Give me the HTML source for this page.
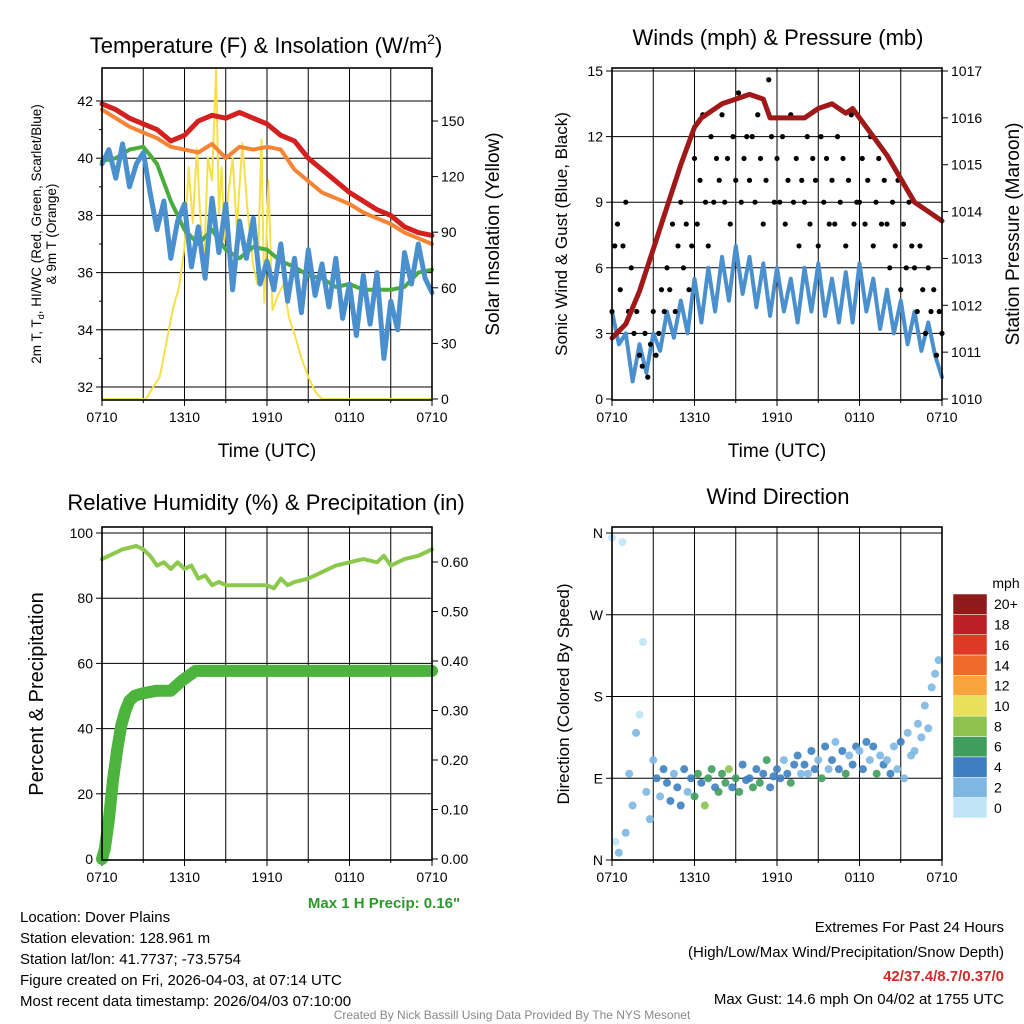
<!DOCTYPE html>
<html><head><meta charset="utf-8"><style>
body{margin:0;background:#fff}
svg{display:block;font-family:"Liberation Sans",Arial,sans-serif}
</style></head><body>
<svg id="s" width="1024" height="1024" viewBox="0 0 1024 1024" xmlns="http://www.w3.org/2000/svg">
<g id="g"></g>
<text x="266" y="53" font-size="22" text-anchor="middle">Temperature (F) &amp; Insolation (W/m<tspan font-size="14" dy="-9">2</tspan><tspan dy="9">)</tspan></text>
<text x="778" y="45" font-size="22" text-anchor="middle">Winds (mph) &amp; Pressure (mb)</text>
<text x="266" y="510" font-size="22" text-anchor="middle">Relative Humidity (%) &amp; Precipitation (in)</text>
<text x="778" y="504" font-size="22" text-anchor="middle">Wind Direction</text>
<text transform="translate(41,234) rotate(-90)" font-size="13.5" text-anchor="middle">2m T, T<tspan font-size="9" dy="3">d</tspan><tspan dy="-3">, HI/WC (Red, Green, Scarlet/Blue)</tspan></text>
<text transform="translate(56,234) rotate(-90)" font-size="13.5" text-anchor="middle">&amp; 9m T (Orange)</text>
<text transform="translate(499,234) rotate(-90)" font-size="19" text-anchor="middle">Solar Insolation (Yellow)</text>
<text transform="translate(567,234) rotate(-90)" font-size="17" text-anchor="middle">Sonic Wind &amp; Gust (Blue, Black)</text>
<text transform="translate(1019,234) rotate(-90)" font-size="19" text-anchor="middle">Station Pressure (Maroon)</text>
<text transform="translate(43,694) rotate(-90)" font-size="20" text-anchor="middle">Percent &amp; Precipitation</text>
<text transform="translate(569,694) rotate(-90)" font-size="17" text-anchor="middle">Direction (Colored By Speed)</text>
<text x="267" y="457" font-size="19" text-anchor="middle">Time (UTC)</text>
<text x="777" y="457" font-size="19" text-anchor="middle">Time (UTC)</text>
<text x="384" y="908" font-size="15" font-weight="bold" fill="#2a9a2a" text-anchor="middle">Max 1 H Precip: 0.16"</text>
<g font-size="15">
<text x="20" y="922">Location: Dover Plains</text>
<text x="20" y="943">Station elevation: 128.961 m</text>
<text x="20" y="964">Station lat/lon: 41.7737; -73.5754</text>
<text x="20" y="985">Figure created on Fri, 2026-04-03, at 07:14 UTC</text>
<text x="20" y="1006">Most recent data timestamp: 2026/04/03 07:10:00</text>
</g>
<g font-size="15" text-anchor="end">
<text x="1004" y="932">Extremes For Past 24 Hours</text>
<text x="1004" y="957">(High/Low/Max Wind/Precipitation/Snow Depth)</text>
<text x="1004" y="981" font-weight="bold" fill="#d42a2a">42/37.4/8.7/0.37/0</text>
<text x="1004" y="1004">Max Gust: 14.6 mph On 04/02 at 1755 UTC</text>
</g>
<text x="512" y="1019" font-size="12" fill="#888" text-anchor="middle">Created By Nick Bassill Using Data Provided By The NYS Mesonet</text>
</svg>
<script>
const hours=[0,1,2,3,4,5,6,7,8,9,10,11,12,13,14,15,16,17,18,19,20,21,22,23,24];
const tempRed=[41.9,41.7,41.4,41.2,41.0,40.6,40.8,41.3,41.5,41.4,41.6,41.4,41.2,40.8,40.6,40.0,39.6,39.2,38.8,38.5,38.2,38.0,37.6,37.4,37.3];
const tempOrange=[41.7,41.4,41.1,40.9,40.7,40.4,40.3,40.2,40.5,40.0,40.4,40.3,40.4,40.3,39.6,39.2,38.8,38.6,38.4,38.1,37.9,37.7,37.4,37.2,37.0];
const dewGreen=[39.9,40.0,40.3,40.4,39.8,38.5,37.5,37.0,37.5,36.8,36.5,36.9,36.8,36.4,36.2,35.9,35.8,35.5,35.6,35.4,35.4,35.4,35.5,36.0,36.1];
const wcBlue=[39.8,40.3,39.3,40.5,39.0,39.8,40.2,38.8,37.5,38.5,36.5,37.8,38.4,36.2,37.6,35.8,38.6,36.7,38.4,35.4,37.8,36.5,37.9,35.6,36.4,35.4,37.0,35.0,36.5,34.6,36.8,35.2,36.3,34.8,36.5,34.4,35.6,33.8,35.9,34.2,36.0,33.0,35.0,34.0,36.7,35.6,37.0,35.8,35.3];
const insolTimes=[0,3.2,3.6,4.2,4.8,5.2,5.6,6.0,6.3,6.6,6.9,7.1,7.4,7.7,8.0,8.3,8.5,8.7,8.9,9.2,9.5,9.8,10.2,10.6,11.0,11.3,11.6,11.8,12.1,12.4,12.8,13.2,13.6,14.0,14.5,15.0,15.5,16.0,24];
const insolVals=[0,0,5,12,35,50,60,82,125,95,135,105,70,130,118,178,100,125,85,112,130,92,138,100,72,62,140,52,118,48,56,62,44,35,22,12,4,0,0];
const windTimes=[0,0.5,1,1.5,2,2.5,3,3.5,4,4.5,5,5.5,6,6.5,7,7.5,8,8.5,9,9.5,10,10.5,11,11.5,12,12.5,13,13.5,14,14.5,15,15.5,16,16.5,17,17.5,18,18.5,19,19.5,20,20.5,21,21.5,22,22.5,23,23.5,24];
const windSpeed=[4,2.5,3,0.8,2.5,1.2,3,2.2,4,2.8,4.5,3,5.5,3.5,6,4,6.5,4.5,7,4.8,6.5,4.2,6.2,3.8,6,4,5.5,3.5,6,4,6.2,3.8,5.5,3.5,5.8,3.5,6.2,4,5.5,3.2,5,3,4.5,2.5,4,2.2,3.5,2,1];
const gusts=[4,7,8,5,7,9,4,6,3,4, 2,1.5,3,1,2.5,4,2,3,5,4, 6,5,8,4,7,9,6,8,5,7, 11,8,10,13,9,7,12,9,11,10, 13,9,11,8,12,10,14,9,11,12, 10,12,9,13,11,8,10,14.6,12,9, 11,9,12,8,10,13,9,11,7,10, 9,12,8,11,10,7,12,9,11,8, 10,8,12,9,11,7,10,13,8,9, 9,11,8,10,12,7,9,11,8,10, 8,6,9,7,10,5,8,6,9,7, 6,4,7,5,3,6,4,5,2,4,3];
const pressTimes=[0,1,2,3,4,5,6,6.5,7,8,9,10,11,11.5,12,13,14,15,16,17,17.5,18,19,20,21,22,23,24];
const pressure=[1011.3,1011.6,1012.3,1013.2,1014.1,1015.0,1015.8,1016.0,1016.1,1016.3,1016.4,1016.5,1016.4,1016.0,1016.0,1016.0,1016.0,1016.2,1016.3,1016.1,1016.2,1016.0,1015.6,1015.2,1014.7,1014.2,1014.0,1013.8];
const rhTimes=[0,0.5,1.5,2.5,3,3.5,4,4.5,5,5.5,6,6.5,7,7.5,8,8.5,9,10,11,12,12.5,13,13.5,14,15,16,17,18,19,20,20.5,21,22,23,24];
const rh=[92,93,95,96,95,93,90,91,89,91,89,90,86,87,84,85,84,84,84,84,83,86,84,85,86,88,90,91,92,91,93,90,92,93,95];
const precipTimes=[0,0.2,0.5,0.8,1.1,1.4,1.7,2.0,2.4,3.0,4.0,5.0,5.8,6.3,6.8,24];
const precip=[0,0.02,0.08,0.16,0.22,0.27,0.30,0.32,0.33,0.335,0.34,0.34,0.36,0.37,0.38,0.38];
const dirDeg=[355,20,8,350,30,95,60,140, 160,240,75,45,110,90,70,100, 85,65,95,80,60,100,75,90, 70,95,85,60,90,100,80,75, 95,85,100,80,90,75,105,88, 90,80,100,85,95,110,80,92, 100,90,110,95,85,105,115,95, 105,95,120,100,110,90,125,100, 110,130,100,120,95,115,105,125, 120,100,130,110,125,95,115,105, 110,95,125,100,130,90,140,115, 120,150,135,170,145,190,205,220];
const dirSpeed=[1,1,2,1,2,2,3,2, 1,1,2,3,3,4,3,4, 4,5,3,4,4,5,3,4, 6,7,5,8,6,7,5,6, 7,6,8,5,7,6,4,5, 5,6,4,7,5,6,4,5, 4,5,3,4,6,4,5,3, 4,3,5,4,3,6,4,3, 4,3,5,4,6,3,4,5, 3,4,5,3,4,6,3,4, 3,4,2,3,4,3,2,3, 3,2,3,2,2,3,2,3];
const xTickLabels=["0710","1310","1910","0110","0710"];
const cbLabels=["20+","18","16","14","12","10","8","6","4","2","0"];
const cbColors=["#8e1a1a","#bd1f26","#dc3a25","#f06a2c","#f8a53f","#e8df5a","#8dc24f","#3f9e5c","#3d7fc0","#7db7e2","#bfe5f7"];

const NS="http://www.w3.org/2000/svg";
const G=document.getElementById('g');
function el(t,a,p){const e=document.createElementNS(NS,t);for(const k in a)e.setAttribute(k,a[k]);(p||G).appendChild(e);return e;}
function lin(d0,d1,r0,r1){return v=>r0+(v-d0)/(d1-d0)*(r1-r0);}
function spdColor(s){let i=Math.min(10,Math.floor(s/2));return cbColors[10-i];}

function frame(name,x0,y0,x1,y1,yL,yR,ticksL,fmtL,ticksR,fmtR,minorL){
  const g=el('g',{});
  
  
  const X=lin(0,24,x0,x1);
  for(let h=3;h<24;h+=3){const l=el('line',{x1:X(h),x2:X(h),y1:y0,y2:y1,stroke:'#000','stroke-width':1},g);
    
    }
  ticksL.forEach(v=>{const y=yL(v);
    if(y>y0+2&&y<y1-2){const l=el('line',{x1:x0,x2:x1,y1:y,y2:y,stroke:'#000','stroke-width':1},g);
    
    }
    el('line',{x1:x0-6,x2:x0,y1:y,y2:y,stroke:'#000'},g);
    const t=el('text',{x:x0-9,y:y+5,'font-size':14,'text-anchor':'end'},g);t.textContent=fmtL(v);
    
    });
  if(minorL)minorL.forEach(v=>{const y=yL(v);el('line',{x1:x0-3,x2:x0,y1:y,y2:y,stroke:'#000'},g);});
  if(ticksR)ticksR.forEach(v=>{const y=yR(v);
    el('line',{x1:x1,x2:x1+6,y1:y,y2:y,stroke:'#000'},g);
    const t=el('text',{x:x1+9,y:y+5,'font-size':14},g);t.textContent=fmtR(v);
    
    });
  xTickLabels.forEach((s,i)=>{const x=X(i*6);
    el('line',{x1:x,x2:x,y1:y1,y2:y1+6,stroke:'#000'},g);
    const t=el('text',{x:x,y:y1+22,'font-size':14,'text-anchor':'middle'},g);t.textContent=s;
    
    });
  for(let h=3;h<24;h+=6){el('line',{x1:X(h),x2:X(h),y1:y1,y2:y1+3,stroke:'#000'},g);}
  return X;
}
function border(x0,y0,x1,y1){const r=el('rect',{x:x0,y:y0,width:x1-x0,height:y1-y0,fill:'none',stroke:'#000','stroke-width':1.6});
  
  }
function line(name,X,Y,ts,vs,color,w){const d=ts.map((t,i)=>(i?'L':'M')+X(t).toFixed(1)+' '+Y(vs[i]).toFixed(1)).join('');
  const p=el('path',{d:d,fill:'none',stroke:color,'stroke-width':w,'stroke-linejoin':'round','stroke-linecap':'round'});
  
  }

// Panel 1
{const x0=102,y0=68,x1=432,y1=400;
 const YL=lin(32,42,387,101),YR=lin(0,150,399,121);
 const X=frame('temp',x0,y0,x1,y1,YL,YR,[32,34,36,38,40,42],v=>v,[0,30,60,90,120,150],v=>v,[33,35,37,39,41]);
 const ht=wcBlue.map((v,i)=>i*0.5);
 line('insolation-line',X,YR,insolTimes,insolVals,'#f5e04a',2);
 line('dewpoint-line',X,YL,hours,dewGreen,'#4aac3c',4);
 line('windchill-line',X,YL,ht,wcBlue,'#4a90cf',5);
 line('temp-9m-line',X,YL,hours,tempOrange,'#f58535',4);
 line('temp-2m-line',X,YL,hours,tempRed,'#d42020',5);
 border(x0,y0,x1,y1);}
// Panel 2
{const x0=612,y0=68,x1=942,y1=400;
 const YL=lin(0,15,399,71),YR=lin(1010,1017,399,71);
 const X=frame('wind',x0,y0,x1,y1,YL,YR,[0,3,6,9,12,15],v=>v,[1010,1011,1012,1013,1014,1015,1016,1017],v=>v,null);
 line('wind-speed-line',X,YL,windTimes,windSpeed,'#4a90cf',4);
 gusts.forEach((v,i)=>{const c=el('circle',{cx:X(i*0.2),cy:YL(v),r:2.6,fill:'#000'});
   
   });
 line('pressure-line',X,YR,pressTimes,pressure,'#a01818',5);
 border(x0,y0,x1,y1);}
// Panel 3
{const x0=102,y0=527,x1=432,y1=860;
 const YL=lin(0,100,859,533),YR=lin(0,0.6,859,562);
 const X=frame('rh',x0,y0,x1,y1,YL,YR,[0,20,40,60,80,100],v=>v,[0,0.1,0.2,0.3,0.4,0.5,0.6],v=>v.toFixed(2),null);
 line('rh-line',X,YL,rhTimes,rh,'#8cc84b',4);
 line('precip-line',X,YR,precipTimes,precip,'#4cb33c',12);
 border(x0,y0,x1,y1);}
// Panel 4
{const x0=612,y0=527,x1=942,y1=860;
 const YL=lin(0,360,860,533);
 const X=frame('dir',x0,y0,x1,y1,YL,null,[0,90,180,270,360],v=>({0:'N',90:'E',180:'S',270:'W',360:'N'})[v],null,null,null);
 dirDeg.forEach((d,i)=>{const c=el('circle',{cx:X(i*0.25),cy:YL(d),r:4,fill:spdColor(dirSpeed[i]),'fill-opacity':0.9});
   
   });
 border(x0,y0,x1,y1);
 const lt=el('text',{x:1006,y:588,'font-size':14,'text-anchor':'middle'});lt.textContent='mph';
 
 
 const bh=224/11;
 cbColors.forEach((c,i)=>{const r=el('rect',{x:953,y:594+i*bh,width:34,height:bh,fill:c,stroke:'#fff','stroke-width':0.5});
   
   
   const t=el('text',{x:994,y:594+i*bh+bh/2+5,'font-size':14},G);t.textContent=cbLabels[i];
   
   });}
</script>
</body></html>
